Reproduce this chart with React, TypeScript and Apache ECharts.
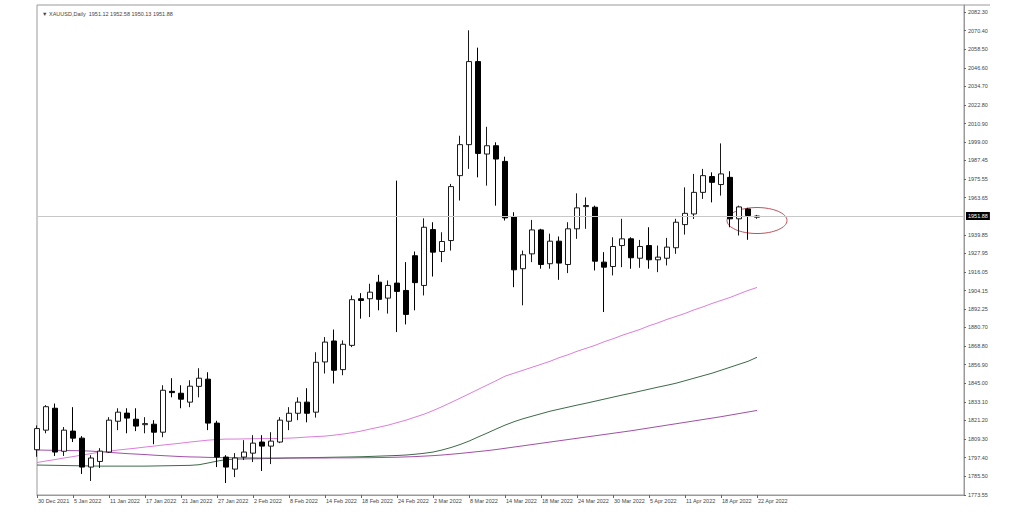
import React, { useEffect, useRef } from 'react';
import * as echarts from 'echarts';

const dates = [
  '30 Dec 2021', '31 Dec 2021', '3 Jan 2022', '4 Jan 2022', '5 Jan 2022', '6 Jan 2022', '7 Jan 2022', '10 Jan 2022', '11 Jan 2022', '12 Jan 2022',
  '13 Jan 2022', '14 Jan 2022', '17 Jan 2022', '18 Jan 2022', '19 Jan 2022', '20 Jan 2022', '21 Jan 2022', '24 Jan 2022', '25 Jan 2022', '26 Jan 2022',
  '27 Jan 2022', '28 Jan 2022', '31 Jan 2022', '1 Feb 2022', '2 Feb 2022', '3 Feb 2022', '4 Feb 2022', '7 Feb 2022', '8 Feb 2022', '9 Feb 2022',
  '10 Feb 2022', '11 Feb 2022', '14 Feb 2022', '15 Feb 2022', '16 Feb 2022', '17 Feb 2022', '18 Feb 2022', '21 Feb 2022', '22 Feb 2022', '23 Feb 2022',
  '24 Feb 2022', '25 Feb 2022', '28 Feb 2022', '1 Mar 2022', '2 Mar 2022', '3 Mar 2022', '4 Mar 2022', '7 Mar 2022', '8 Mar 2022', '9 Mar 2022',
  '10 Mar 2022', '11 Mar 2022', '14 Mar 2022', '15 Mar 2022', '16 Mar 2022', '17 Mar 2022', '18 Mar 2022', '21 Mar 2022', '22 Mar 2022', '23 Mar 2022',
  '24 Mar 2022', '25 Mar 2022', '28 Mar 2022', '29 Mar 2022', '30 Mar 2022', '31 Mar 2022', '1 Apr 2022', '4 Apr 2022', '5 Apr 2022', '6 Apr 2022',
  '7 Apr 2022', '8 Apr 2022', '11 Apr 2022', '12 Apr 2022', '13 Apr 2022', '14 Apr 2022', '18 Apr 2022', '19 Apr 2022', '20 Apr 2022', '21 Apr 2022',
  '22 Apr 2022',
];

// [open, high, low, close]
const ohlc: number[][] = [
  [1802.5, 1818.0, 1798.0, 1816.0], [1815.0, 1831.0, 1813.0, 1830.0], [1829.0, 1832.0, 1798.5, 1801.0], [1801.5, 1817.0, 1798.5, 1815.0],
  [1814.4, 1829.7, 1807.4, 1809.9], [1809.9, 1811.2, 1787.0, 1791.4], [1791.4, 1799.0, 1782.5, 1797.2], [1795.0, 1803.5, 1790.8, 1801.6],
  [1801.0, 1823.3, 1800.4, 1821.4], [1820.7, 1829.0, 1815.0, 1826.5], [1825.9, 1829.0, 1813.0, 1822.7], [1822.0, 1829.0, 1814.4, 1817.6],
  [1818.5, 1823.3, 1813.0, 1819.2], [1818.8, 1821.4, 1806.0, 1813.7], [1813.7, 1843.7, 1810.5, 1840.5], [1839.8, 1848.2, 1836.0, 1839.0],
  [1838.6, 1843.7, 1829.0, 1834.8], [1832.9, 1846.9, 1829.7, 1843.1], [1843.0, 1854.6, 1836.0, 1848.2], [1847.6, 1852.0, 1815.0, 1819.5],
  [1819.5, 1821.0, 1791.4, 1797.8], [1797.8, 1799.0, 1781.2, 1791.4], [1790.1, 1800.3, 1785.0, 1797.2], [1797.8, 1808.6, 1795.9, 1801.0],
  [1800.3, 1811.8, 1794.6, 1806.7], [1807.4, 1811.8, 1788.9, 1804.8], [1804.8, 1813.7, 1793.3, 1808.0], [1807.4, 1823.3, 1806.7, 1821.4],
  [1820.7, 1829.7, 1815.0, 1825.8], [1825.8, 1836.0, 1821.4, 1832.9], [1832.9, 1841.8, 1820.0, 1825.8], [1826.5, 1864.8, 1823.0, 1858.4],
  [1858.6, 1874.5, 1851.2, 1871.3], [1872.0, 1879.3, 1844.8, 1853.3], [1853.7, 1872.4, 1850.1, 1869.9], [1869.2, 1901.1, 1868.1, 1898.4],
  [1899.0, 1902.6, 1886.3, 1897.9], [1899.0, 1908.6, 1887.3, 1903.2], [1909.6, 1914.3, 1891.6, 1898.6], [1899.4, 1910.7, 1889.5, 1907.5],
  [1909.0, 1974.5, 1877.7, 1903.7], [1904.3, 1922.4, 1882.6, 1889.0], [1926.5, 1929.2, 1891.6, 1909.3], [1907.5, 1950.4, 1901.1, 1944.7],
  [1943.2, 1947.9, 1913.2, 1928.8], [1929.2, 1941.5, 1922.4, 1935.6], [1936.2, 1972.4, 1929.8, 1970.7], [1977.7, 2003.2, 1961.8, 1997.5],
  [1997.5, 2070.6, 1982.0, 2050.6], [2050.6, 2059.5, 1976.6, 1991.9], [1991.5, 2008.9, 1971.3, 1996.8], [1996.8, 1999.0, 1958.5, 1988.3],
  [1986.8, 1989.8, 1949.0, 1950.7], [1951.5, 1954.3, 1906.4, 1917.5], [1918.2, 1929.8, 1894.8, 1927.1], [1927.7, 1949.4, 1922.4, 1943.0],
  [1943.0, 1943.7, 1918.2, 1920.9], [1921.4, 1940.6, 1918.2, 1935.8], [1935.8, 1938.8, 1911.1, 1921.8], [1920.9, 1947.9, 1915.4, 1943.7],
  [1943.7, 1966.4, 1937.3, 1957.1], [1957.9, 1963.8, 1943.7, 1958.6], [1957.5, 1958.5, 1917.1, 1923.0], [1922.4, 1928.8, 1890.5, 1919.2],
  [1919.6, 1938.3, 1913.9, 1932.4], [1933.0, 1950.1, 1919.2, 1937.3], [1937.3, 1938.3, 1918.2, 1925.2], [1924.9, 1936.6, 1918.8, 1932.4],
  [1933.0, 1944.7, 1918.2, 1923.9], [1923.9, 1933.0, 1916.0, 1925.6], [1924.9, 1937.9, 1920.3, 1932.0], [1931.6, 1950.1, 1927.7, 1947.9],
  [1946.4, 1970.2, 1940.0, 1953.6], [1953.2, 1978.8, 1950.0, 1967.0], [1967.0, 1982.0, 1962.8, 1977.7], [1977.1, 1979.8, 1960.6, 1973.4],
  [1972.0, 1998.3, 1964.9, 1978.8], [1976.6, 1980.5, 1944.7, 1950.1], [1950.1, 1958.5, 1939.4, 1957.7], [1956.4, 1957.1, 1936.7, 1952.2],
  [1951.12, 1952.58, 1950.13, 1951.88],
];

const maFast = [
  1794.3, 1795.3, 1796.2, 1797.2, 1798.1, 1799.1, 1800.0, 1801.0, 1801.6, 1802.3, 1802.9, 1803.5, 1804.2, 1804.8, 1805.5, 1806.1, 1806.7, 1807.4, 1808.0, 1808.6,
  1809.0, 1809.3, 1809.3, 1809.4, 1809.5, 1809.6, 1809.6, 1809.7, 1809.9, 1810.2, 1810.6, 1810.9, 1811.2, 1811.8, 1812.5, 1813.4, 1814.4, 1815.7, 1816.9, 1818.2,
  1819.8, 1821.4, 1823.3, 1825.2, 1827.5, 1830.0, 1832.7, 1835.4, 1838.2, 1841.0, 1843.8, 1846.6, 1849.5, 1851.4, 1853.3, 1855.2, 1857.1, 1859.0, 1861.3, 1863.2,
  1865.4, 1867.3, 1869.2, 1871.5, 1873.4, 1875.6, 1877.5, 1879.4, 1881.7, 1883.6, 1885.8, 1887.7, 1889.6, 1891.9, 1893.8, 1896.0, 1897.9, 1899.8, 1902.1, 1904.3,
  1906.2,
];

const maMid = [
  1792.7, 1792.6, 1792.5, 1792.4, 1792.3, 1792.2, 1792.1, 1792.0, 1792.0, 1792.0, 1792.0, 1792.0, 1792.0, 1792.1, 1792.2, 1792.3, 1792.4, 1792.5, 1792.9, 1794.0,
  1795.2, 1796.2, 1796.5, 1796.6, 1796.7, 1796.8, 1796.9, 1797.0, 1797.2, 1797.3, 1797.4, 1797.5, 1797.6, 1797.7, 1797.8, 1797.9, 1798.0, 1798.2, 1798.4, 1798.6,
  1798.8, 1799.1, 1799.6, 1800.2, 1801.0, 1802.3, 1803.9, 1805.8, 1808.0, 1810.6, 1813.1, 1815.7, 1818.2, 1820.4, 1822.3, 1823.9, 1825.5, 1827.1, 1828.4, 1829.7,
  1831.0, 1832.2, 1833.5, 1834.8, 1836.1, 1837.4, 1838.6, 1839.9, 1841.2, 1842.5, 1843.7, 1845.0, 1846.6, 1848.2, 1849.8, 1851.4, 1853.3, 1855.2, 1857.1, 1859.0,
  1861.6,
];

const maSlow = [
  1802.3, 1802.2, 1802.1, 1802.0, 1801.9, 1801.8, 1801.6, 1801.2, 1800.8, 1800.4, 1800.0, 1799.7, 1799.4, 1799.0, 1798.7, 1798.4, 1798.1, 1797.9, 1797.8, 1797.6,
  1797.5, 1797.4, 1797.4, 1797.3, 1797.3, 1797.2, 1797.2, 1797.2, 1797.2, 1797.2, 1797.2, 1797.2, 1797.2, 1797.3, 1797.3, 1797.3, 1797.4, 1797.4, 1797.5, 1797.6,
  1797.7, 1797.9, 1798.1, 1798.4, 1798.7, 1799.1, 1799.6, 1800.1, 1800.7, 1801.3, 1801.9, 1802.6, 1803.4, 1804.2, 1805.0, 1805.8, 1806.6, 1807.4, 1808.2, 1809.0,
  1809.8, 1810.6, 1811.4, 1812.2, 1813.0, 1813.8, 1814.6, 1815.5, 1816.4, 1817.3, 1818.2, 1819.1, 1820.0, 1820.9, 1821.8, 1822.7, 1823.6, 1824.6, 1825.6, 1826.6,
  1827.6,
];

const yTicks = [
  2082.3, 2070.4, 2058.5, 2046.6, 2034.7, 2022.8, 2010.9, 1999.0, 1987.45, 1975.55, 1963.65, 1939.85, 1927.95,
  1916.05, 1904.15, 1892.25, 1880.7, 1868.8, 1856.9, 1845.0, 1833.1, 1821.2, 1809.3, 1797.4, 1785.5, 1773.55,
];

const currentPrice = 1951.88;
const titleText = '\u25BC XAUUSD,Daily  1951.12 1952.58 1950.13 1951.88';

export default function App() {
  const ref = useRef<HTMLDivElement>(null);
  useEffect(() => {
    const chart = echarts.init(ref.current!, null, { renderer: 'svg' });
    const font = 'Liberation Sans, Arial, sans-serif';
    const showIdx = (i: number) => i % 4 === 0 && i < dates.length;
    chart.setOption({
      animation: false,
      backgroundColor: '#ffffff',
      title: {
        text: titleText,
        left: 37,
        top: 6,
        textStyle: { fontSize: 5.5, fontWeight: 'normal', color: '#444', fontFamily: font },
      },
      grid: { left: 37, right: 60, top: 5, bottom: 17, show: true, borderColor: '#9a9a9a', borderWidth: 1 },
      xAxis: {
        type: 'category',
        data: dates,
        boundaryGap: false,
        max: 102.6,
        axisLine: { show: true, lineStyle: { color: '#9a9a9a' } },
        axisTick: { show: true, length: 3, interval: (i: number) => showIdx(i), lineStyle: { color: '#666' } },
        axisLabel: {
          interval: (i: number) => showIdx(i),
          align: 'left',
          margin: 3,
          padding: [0, 0, 0, 1],
          fontSize: 5.5,
          color: '#444',
          fontFamily: font,
        },
        splitLine: { show: false },
      },
      yAxis: {
        type: 'value',
        position: 'right',
        min: 1773.55,
        max: 2086.77,
        scale: true,
        axisLine: { show: true, lineStyle: { color: '#9a9a9a' } },
        axisTick: { show: true, length: 2, customValues: yTicks, lineStyle: { color: '#666' } },
        axisLabel: {
          customValues: yTicks,
          margin: 4,
          fontSize: 5.5,
          color: '#444',
          fontFamily: font,
          formatter: (v: number) => v.toFixed(2),
        },
        splitLine: { show: false },
      },
      series: [
        {
          type: 'candlestick',
          data: ohlc.map(([o, h, l, c]) => [o, c, l, h]),
          barWidth: 6,
          clip: true,
          itemStyle: { color: '#ffffff', color0: '#000000', borderColor: '#1a1a1a', borderColor0: '#000000', borderWidth: 1 },
          markLine: {
            silent: true,
            symbol: 'none',
            data: [{ yAxis: currentPrice }],
            lineStyle: { color: '#c8c8c8', width: 1, type: 'solid' },
            label: {
              show: true,
              position: 'end',
              distance: 2,
              formatter: currentPrice.toFixed(2),
              backgroundColor: '#000',
              color: '#fff',
              fontSize: 5.5,
              padding: [1, 2],
              fontFamily: font,
            },
          },
        },
        { type: 'line', data: maFast, showSymbol: false, lineStyle: { color: '#dd7ddd', width: 1 }, z: 1 },
        { type: 'line', data: maMid, showSymbol: false, lineStyle: { color: '#3c6a48', width: 1 }, z: 1 },
        { type: 'line', data: maSlow, showSymbol: false, lineStyle: { color: '#a24fa8', width: 1 }, z: 1 },
      ],
    });
    const p = chart.convertToPixel({ gridIndex: 0 }, [80, 1949]) as number[];
    const topRight = chart.convertToPixel({ gridIndex: 0 }, [102.6, 2086.77]) as number[];
    chart.setOption({
      graphic: [
        { type: 'ellipse', shape: { cx: p[0], cy: p[1], rx: 30, ry: 13 }, style: { fill: 'none', stroke: '#c0505a', lineWidth: 1 } },
        { type: 'line', shape: { x1: topRight[0], y1: topRight[1], x2: topRight[0] + 26, y2: topRight[1] }, style: { stroke: '#9a9a9a', lineWidth: 1 } },
      ],
    });
    return () => chart.dispose();
  }, []);
  return <div ref={ref} style={{ position: 'absolute', left: 0, top: 0, width: 1024, height: 512 }} />;
}
